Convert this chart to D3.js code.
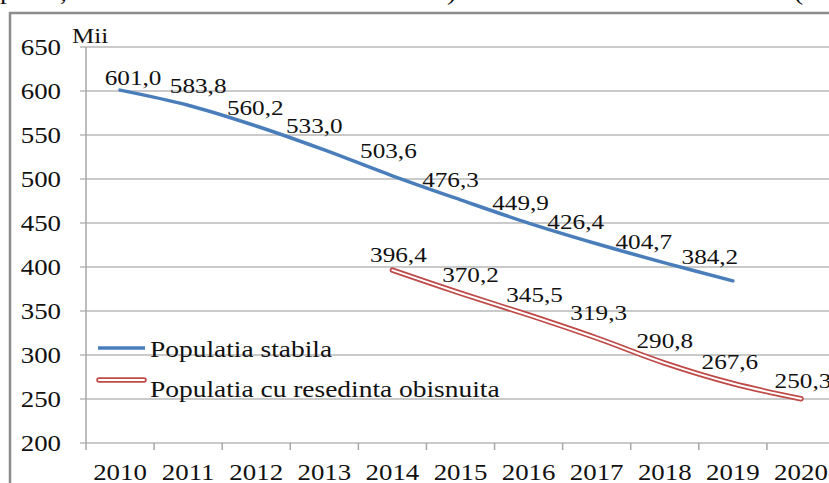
<!DOCTYPE html>
<html>
  <head>
    <meta charset="utf-8">
    <script src="https://d3js.org/d3.v7.min.js"></script>
    <style>
      body { margin: 0; background: #fff; }
      .grid line { stroke: #b8b8b8; stroke-width: 1.5px; }
    </style>
  </head>
  <body>
    <div id="chart"></div>
    <script>
      // data
      var years = ["2010","2011","2012","2013","2014","2015","2016","2017","2018","2019","2020"];
      var stabila = [601.0, 583.8, 560.2, 533.0, 503.6, 476.3, 449.9, 426.4, 404.7, 384.2, null];
      var obisnuita = [null, null, null, null, 396.4, 370.2, 345.5, 319.3, 290.8, 267.6, 250.3];
      var yTicks = [200, 250, 300, 350, 400, 450, 500, 550, 600, 650];
      var seriesNames = ["Populatia stabila", "Populatia cu resedinta obisnuita"];

      // hand placed label nudges (dx, dy) like in the original workbook
      var nudgeStabila = [[13,-5],[10,-12],[-1,-11],[-10,-17],[-4,-18],[-10,-13],[-8,-13],[-21,-15],[-21,-14],[-23,-17],[0,0]];
      var nudgeObisnuita = [[0,0],[0,0],[0,0],[0,0],[6,-8],[10,-11],[6,-13],[2,-18],[0,-15],[-3,-15],[2,-11]];

      var W = 829, H = 483;
      var blue = "#4a7ebb", red = "#be4b48";
      var serif = "'Liberation Serif', 'DejaVu Serif', serif";

      var svg = d3.select("#chart").append("svg")
          .attr("width", W).attr("height", H)
          .style("display", "block");

      // stretched text, the scan is wider than it is tall
      function stext(g, x, y, str, size, sx, anchor) {
        return g.append("text")
          .attr("transform", "translate(" + x + "," + y + ") scale(" + sx + ",1)")
          .style("font-family", serif)
          .attr("font-size", size)
          .attr("text-anchor", anchor || "start")
          .attr("fill", "#111")
          .text(str);
      }

      // bits of the line of text above the chart
      var above = svg.append("g");
      stext(above, 0, -1, "p", 24, 1.15);
      stext(above, 60, 0, ",", 24, 1.15);
      stext(above, 447, 0, ")", 24, 1.15);
      stext(above, 794, 0, "(", 24, 1.15);
      stext(above, 823, 0, ".", 24, 1.15);

      // outer frame
      svg.append("rect")
        .attr("x", 10).attr("y", 13)
        .attr("width", W + 20).attr("height", H + 20)
        .attr("fill", "none").attr("stroke", "#8c8c8c").attr("stroke-width", 2.5);

      var x = d3.scaleBand().domain(years).range([86, 835]);
      var y = d3.scaleLinear().domain([200, 650]).range([443, 47]);
      var cx = function(d) { return x(d) + x.bandwidth() / 2; };

      // gridlines
      svg.append("g").attr("class", "grid")
        .selectAll("line").data(yTicks).join("line")
        .attr("x1", 80).attr("x2", W)
        .attr("y1", function(d) { return y(d); })
        .attr("y2", function(d) { return y(d); });

      // axes
      svg.append("line").attr("x1", 86).attr("x2", 86)
        .attr("y1", y(650)).attr("y2", y(200))
        .attr("stroke", "#a6a6a6").attr("stroke-width", 1.5);
      svg.append("g").selectAll("line")
        .data(years.map(function(d) { return x(d); }).concat([835]))
        .join("line")
        .attr("x1", function(d) { return d; }).attr("x2", function(d) { return d; })
        .attr("y1", 443).attr("y2", 450)
        .attr("stroke", "#a6a6a6").attr("stroke-width", 1.5);

      var yl = svg.append("g");
      yTicks.forEach(function(t) {
        stext(yl, 61, y(t) + 8, t, 24, 1.12, "end");
      });
      var xl = svg.append("g");
      years.forEach(function(yr) {
        stext(xl, cx(yr), 480, yr, 24, 1.12, "middle");
      });
      stext(svg, 72, 43, "Mii", 22, 1.14);

      var line = d3.line()
        .defined(function(d) { return d[1] != null; })
        .x(function(d) { return cx(d[0]); })
        .y(function(d) { return y(d[1]); })
        .curve(d3.curveCatmullRom.alpha(0.5));

      var s1 = years.map(function(d, i) { return [d, stabila[i]]; });
      var s2 = years.map(function(d, i) { return [d, obisnuita[i]]; });

      svg.append("path").attr("d", line(s1))
        .attr("fill", "none").attr("stroke", blue).attr("stroke-width", 3.5)
        .attr("stroke-linecap", "round");

      svg.append("path").attr("d", line(s2))
        .attr("fill", "none").attr("stroke", red).attr("stroke-width", 5.5)
        .attr("stroke-linecap", "round").attr("stroke-linejoin", "round");
      svg.append("path").attr("d", line(s2))
        .attr("fill", "none").attr("stroke", "#fff").attr("stroke-width", 2)
        .attr("stroke-linecap", "round");

      // data labels
      var fmt = function(v) { return v.toFixed(1).replace(".", ","); };
      var lab = svg.append("g");
      s1.forEach(function(d, i) {
        if (d[1] == null) return;
        stext(lab, cx(d[0]) + nudgeStabila[i][0], y(d[1]) + nudgeStabila[i][1], fmt(d[1]), 21, 1.2, "middle");
      });
      s2.forEach(function(d, i) {
        if (d[1] == null) return;
        stext(lab, cx(d[0]) + nudgeObisnuita[i][0], y(d[1]) + nudgeObisnuita[i][1], fmt(d[1]), 21, 1.2, "middle");
      });

      // legend
      var leg = svg.append("g");
      leg.append("line").attr("x1", 98).attr("x2", 145).attr("y1", 348).attr("y2", 348)
        .attr("stroke", blue).attr("stroke-width", 3.5);
      leg.append("line").attr("x1", 99).attr("x2", 144).attr("y1", 380).attr("y2", 380)
        .attr("stroke", red).attr("stroke-width", 5.5).attr("stroke-linecap", "round");
      leg.append("line").attr("x1", 99).attr("x2", 144).attr("y1", 380).attr("y2", 380)
        .attr("stroke", "#fff").attr("stroke-width", 2).attr("stroke-linecap", "round");
      stext(leg, 150, 357, seriesNames[0], 22.5, 1.22);
      stext(leg, 150, 397, seriesNames[1], 22.5, 1.22);
    </script>
  </body>
</html>
